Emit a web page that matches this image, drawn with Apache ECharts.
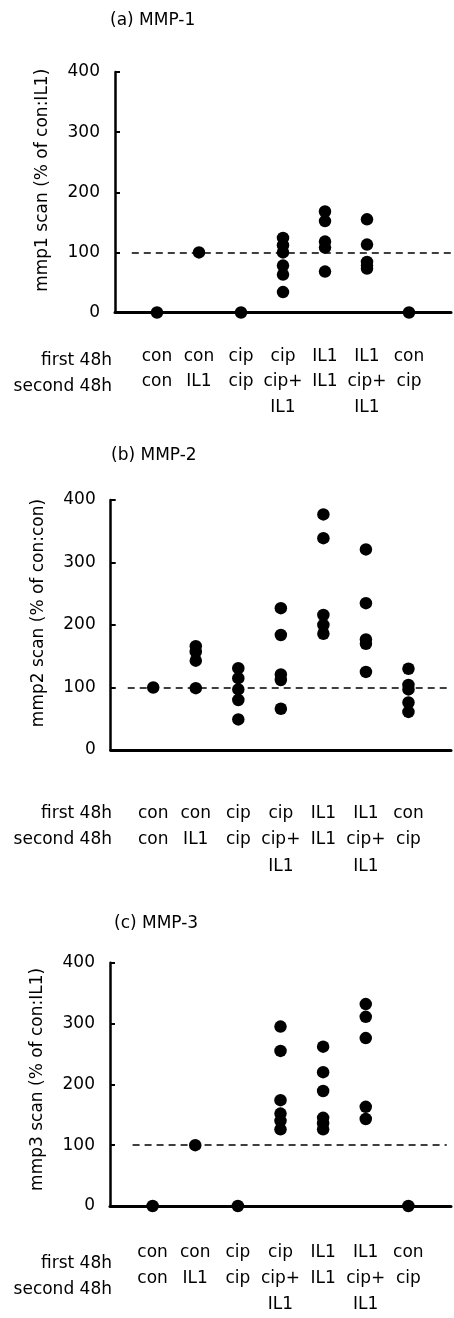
<!DOCTYPE html>
<html>
<head>
<meta charset="utf-8">
<script src="https://cdn.jsdelivr.net/npm/echarts@6/dist/echarts.min.js"></script>
<style>
html,body{margin:0;padding:0;background:#fff;}
#c{width:454px;height:1318px;}
</style>
</head>
<body>
<div id="c"></div>
<script>
// ---- data ----
var firstLabels  = ['con', 'con', 'cip', 'cip', 'IL1', 'IL1', 'con'];
var secondLabels = ['con', 'IL1', 'cip', 'cip+\nIL1', 'IL1', 'cip+\nIL1', 'cip'];
var rowHeaders   = ['first 48h', 'second 48h'];
var panelTitles  = ['(a) MMP-1', '(b) MMP-2', '(c) MMP-3'];
var yNames       = ['mmp1 scan (% of con:IL1)', 'mmp2 scan (% of con:con)', 'mmp3 scan (% of con:IL1)'];
var yTicks       = [0, 100, 200, 300, 400];
var refValue     = 100;

var mmp1 = [[0], [100], [0], [124, 112, 100, 78, 63, 34], [168, 152, 118, 108, 68], [155, 113, 84, 78, 73], [0]];
var mmp2 = [[100], [166, 157, 143, 99], [131, 115, 97, 80, 49], [227, 184, 121, 112, 66], [377, 339, 216, 200, 186], [321, 235, 177, 170, 125], [130, 104, 97, 76, 61]];
var mmp3 = [[0], [100], [0], [295, 255, 174, 152, 140, 126], [262, 220, 189, 145, 136, 126], [332, 311, 276, 163, 143], [0]];

// ---- layout ----
var FONT = 'DejaVu Sans';
var FS = 17;
var panels = [
  {data: mmp1, grid: {left: 115, top: 72, width: 341, height: 240.5}, labelMargin: 31, lineH: 25.5, refStart: 0.4, refEnd: 8, titleTop: 12, titleLeft: 110, nameShift: 24},
  {data: mmp2, grid: {left: 110.7, top: 500, width: 346.4, height: 250}, labelMargin: 50, lineH: 26.5, refStart: 0.4, refEnd: 8, titleTop: 447, titleLeft: 111, nameShift: 24},
  {data: mmp3, grid: {left: 110, top: 962.7, width: 346.4, height: 250.3}, labelMargin: 34, lineH: 26, refStart: 0.53, refEnd: 7.9, titleTop: 915, titleLeft: 114, nameShift: 10}
];

var grids = [], xAxes = [], yAxes = [], series = [], titles = [], graphics = [];

panels.forEach(function (p, k) {
  grids.push(p.grid);
  titles.push({text: panelTitles[k], left: p.titleLeft, top: p.titleTop, padding: 0,
    textStyle: {fontFamily: FONT, fontSize: FS, fontWeight: 'normal', color: '#000'}});
  xAxes.push({
    gridIndex: k, type: 'value', min: 0, max: 8, interval: 1,
    axisLine: {show: true, onZero: false, lineStyle: {color: '#000', width: 3}},
    axisTick: {show: false}, splitLine: {show: false},
    axisLabel: {
      show: true, margin: p.labelMargin, showMinLabel: true, showMaxLabel: true,
      fontFamily: FONT, fontSize: FS, color: '#000', lineHeight: p.lineH, verticalAlign: 'top',
      formatter: function (v) {
        if (v >= 1 && v <= 7) return firstLabels[v - 1] + '\n' + secondLabels[v - 1];
        return '';
      }
    }
  });
  yAxes.push({
    gridIndex: k, type: 'value', min: yTicks[0], max: yTicks[yTicks.length - 1], interval: 100,
    name: yNames[k], nameLocation: 'middle', nameGap: 64, nameRotate: 90,
    nameTextStyle: {fontFamily: FONT, fontSize: FS, color: '#000', padding: [0, 0, 0, p.nameShift]},
    axisLine: {show: true, onZero: false, lineStyle: {color: '#000', width: 2.5}},
    axisTick: {show: true, inside: true, length: 5, lineStyle: {color: '#000', width: 2}},
    splitLine: {show: false},
    axisLabel: {margin: 15, fontFamily: FONT, fontSize: FS, color: '#000'}
  });
  var pts = [];
  p.data.forEach(function (vals, i) {
    vals.forEach(function (v) { pts.push([i + 1, v]); });
  });
  series.push({
    type: 'scatter', xAxisIndex: k, yAxisIndex: k, data: pts,
    symbol: 'circle', symbolSize: 12.5, clip: false,
    itemStyle: {color: '#000', opacity: 1}, z: 5,
    emphasis: {disabled: true},
    markLine: {
      silent: true, symbol: ['none', 'none'], animation: false,
      label: {show: false},
      lineStyle: {color: '#000', width: 1.6, type: [7, 5], opacity: 1},
      data: [[{coord: [p.refStart, refValue]}, {coord: [p.refEnd, refValue]}]]
    }
  });
});

// row headers (first 48h / second 48h) for each panel
var headerTops = [348, 800, 1251];
var headerLH = [25.5, 26.5, 26];
headerTops.forEach(function (t, k) {
  graphics.push({
    type: 'text', right: 454 - 112, top: t,
    style: {text: rowHeaders.join('\n'), font: FS + 'px "' + FONT + '"', fill: '#000', textAlign: 'right', lineHeight: headerLH[k]}
  });
});

var chart = echarts.init(document.getElementById('c'), null, {renderer: 'canvas'});
chart.setOption({
  animation: false,
  backgroundColor: '#fff',
  title: titles,
  grid: grids,
  xAxis: xAxes,
  yAxis: yAxes,
  series: series,
  graphic: graphics
});
</script>
</body>
</html>
